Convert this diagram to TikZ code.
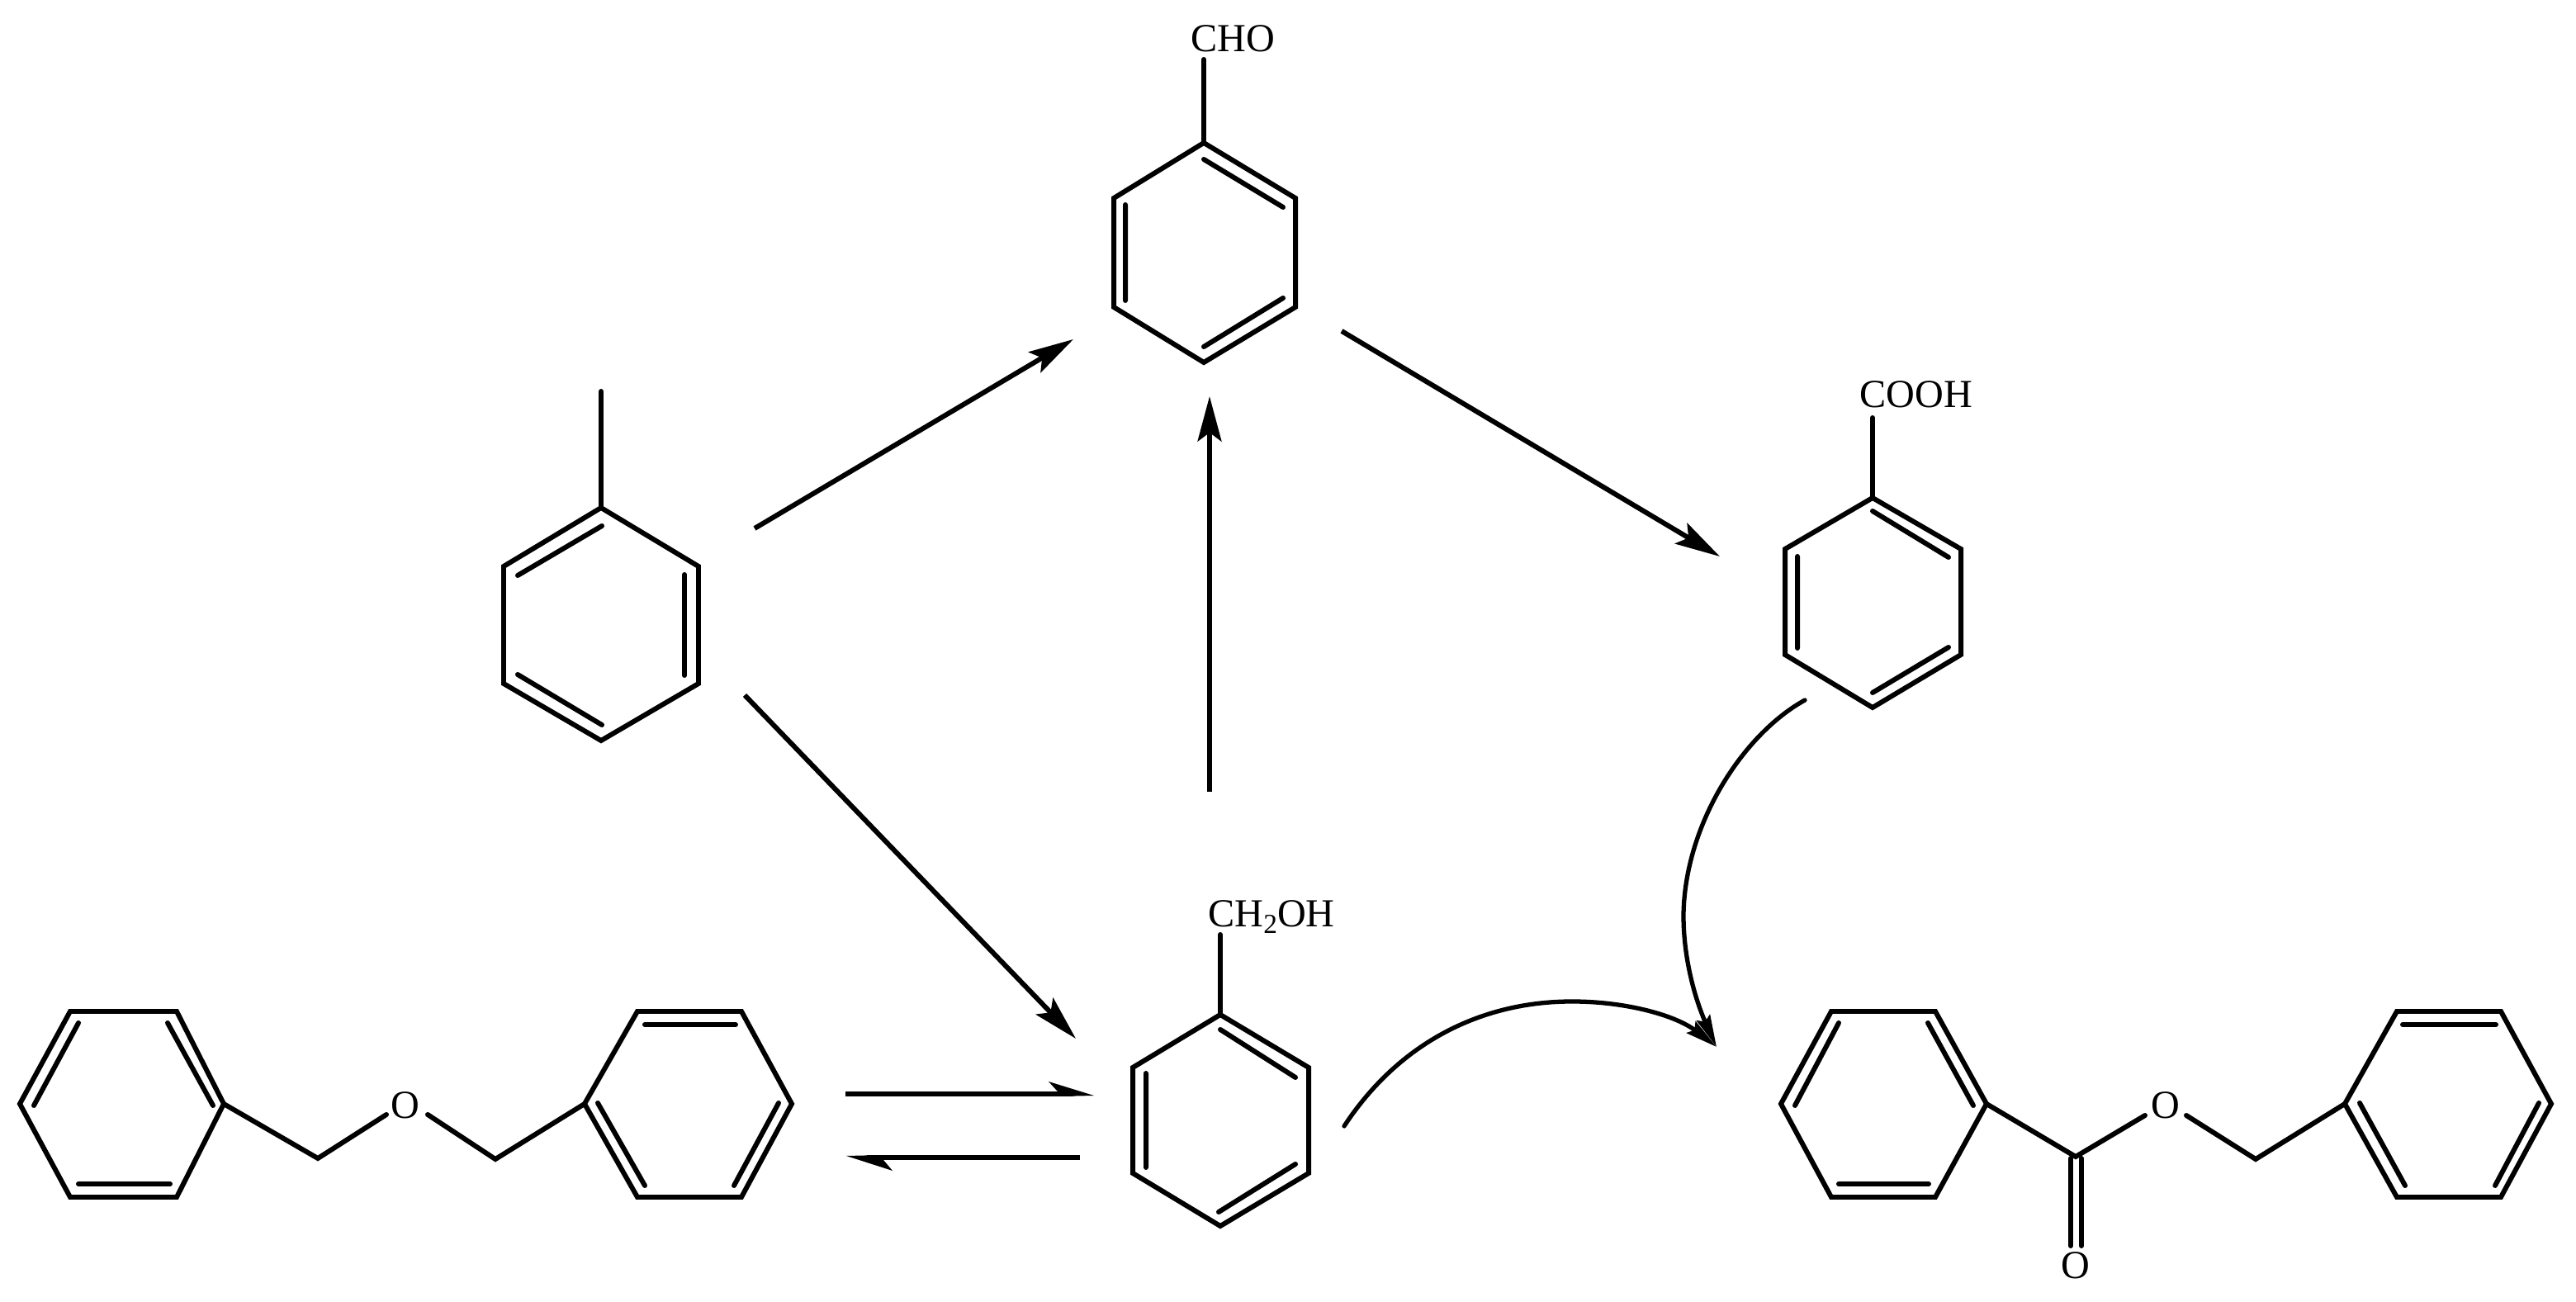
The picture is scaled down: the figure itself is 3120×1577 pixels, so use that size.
\documentclass[tikz,border=0pt]{standalone}
\usepackage{fontspec}
\setmainfont{Liberation Serif}
\usetikzlibrary{arrows.meta}
\tikzset{
  bond/.style={line width=1.7pt,line join=miter,line cap=round},
  rxn/.style={line width=1.7pt,line cap=butt,-{Stealth[length=15.5pt,width=8.2pt,inset=3pt]}},
  curverxn/.style={line width=1.5pt,line cap=round,-{Stealth[length=11pt,width=5pt,inset=1.5pt]}},
  eqline/.style={line width=1.9pt,line cap=butt},
  atom/.style={font=\fontsize{13.7}{16}\selectfont,inner sep=0pt,anchor=base}
}
\begin{document}
\begin{tikzpicture}[x=0.01cm,y=-0.01cm]
\useasboundingbox (0,0) rectangle (3120,1577);
% toluene
\coordinate (tolA) at (728,615);
\coordinate (tolB) at (728,474);
\draw[bond] (tolA) -- (846,686) -- (846,828) -- (728,897) -- (610,828) -- (610,686) -- cycle;
\draw[bond] (tolA) -- (tolB);
\draw[bond] (627,697) -- (729,637) (829,696) -- (829,818) (627,817) -- (729,878);
% benzaldehyde
\coordinate (aldA) at (1458,173);
\coordinate (aldB) at (1458,72);
\draw[bond] (aldA) -- (1569,240) -- (1569,372) -- (1458,439) -- (1349,372) -- (1349,240) -- cycle;
\draw[bond] (aldA) -- (aldB);
\draw[bond] (1458,193) -- (1554,251) (1363,248) -- (1363,364) (1458,420) -- (1554,361);
\node[atom] (cho) at (1493,63) {CHO};
% benzoic acid
\coordinate (acdA) at (2268,603);
\coordinate (acdB) at (2268,506);
\draw[bond] (acdA) -- (2375,665) -- (2375,793) -- (2268,857) -- (2162,793) -- (2162,665) -- cycle;
\draw[bond] (acdA) -- (acdB);
\draw[bond] (2268,619) -- (2360,675) (2177,674) -- (2177,785) (2268,839) -- (2360,784);
\node[atom] (cooh) at (2321,494) {COOH};
% benzyl alcohol
\coordinate (alcA) at (1478,1229);
\coordinate (alcB) at (1478,1132);
\draw[bond] (alcA) -- (1585,1293) -- (1585,1421) -- (1478,1485) -- (1372,1421) -- (1372,1293) -- cycle;
\draw[bond] (alcA) -- (alcB);
\draw[bond] (1478,1247) -- (1569,1305) (1388,1300) -- (1388,1414) (1476,1468) -- (1569,1410);
\node[atom] (choh) at (1540,1123) {CH\raisebox{-0.32ex}{\fontsize{9.5}{10}\selectfont 2}OH};
% dibenzyl ether
\node[atom] (oeth) at (491,1355) {O};
\coordinate (ethL) at (271,1337);
\coordinate (ethR) at (708,1337);
\draw[bond] (ethL) -- (214,1225) -- (85,1225) -- (24,1337) -- (85,1450) -- (214,1450) -- cycle;
\draw[bond] (95,1239) -- (41,1339) (203,1239) -- (258,1339) (95,1434) -- (206,1434);
\draw[bond] (ethR) -- (772,1225) -- (898,1225) -- (959,1337) -- (898,1450) -- (772,1450) -- cycle;
\draw[bond] (781,1241) -- (891,1241) (724,1336) -- (781,1436) (943,1336) -- (889,1436);
\coordinate (ethCa) at (385,1403);
\coordinate (ethCb) at (600,1404);
\coordinate (ethOa) at (468,1350);
\coordinate (ethOb) at (518,1350);
\draw[bond] (ethL) -- (ethCa) -- (ethOa);
\draw[bond] (ethOb) -- (ethCb) -- (ethR);
% benzyl benzoate
\node[atom] (oest) at (2623,1355) {O};
\node[atom] (ocar) at (2514,1549) {O};
\coordinate (estL) at (2406,1337);
\coordinate (estR) at (2840,1337);
\draw[bond] (estL) -- (2344,1225) -- (2218,1225) -- (2157,1337) -- (2218,1450) -- (2344,1450) -- cycle;
\draw[bond] (2227,1239) -- (2174,1339) (2335,1239) -- (2390,1339) (2227,1434) -- (2336,1434);
\draw[bond] (estR) -- (2903,1225) -- (3029,1225) -- (3090,1337) -- (3029,1450) -- (2903,1450) -- cycle;
\draw[bond] (2910,1241) -- (3023,1241) (2858,1336) -- (2913,1436) (3075,1336) -- (3022,1436);
\coordinate (estC) at (2514,1401);
\coordinate (estCb) at (2732,1404);
\coordinate (estOa) at (2598,1351);
\coordinate (estOb) at (2648,1351);
\draw[bond] (estL) -- (estC) -- (estOa);
\draw[bond] (estOb) -- (estCb) -- (estR);
\draw[bond] (2508,1403) -- (2508,1509) (2521,1403) -- (2521,1509);
% arrows
\coordinate (a1s) at (914,640);
\coordinate (a1e) at (1300,411);
\coordinate (a2s) at (902,842);
\coordinate (a2e) at (1303,1258);
\coordinate (a3s) at (1465,959);
\coordinate (a3e) at (1465,480);
\coordinate (a4s) at (1625,401);
\coordinate (a4e) at (2083,674);
\draw[rxn] (a1s) -- (a1e);
\draw[rxn] (a2s) -- (a2e);
\draw[rxn] (a3s) -- (a3e);
\draw[rxn] (a4s) -- (a4e);
% equilibrium
\coordinate (e1s) at (1024,1325);
\coordinate (e1e) at (1325,1327);
\coordinate (e2s) at (1308,1402);
\coordinate (e2e) at (1025,1400);
\draw[eqline] (e1s) -- (1300,1325);
\fill (e1e) -- (1270,1310) -- (1281,1322) -- (1281,1328) -- cycle;
\draw[eqline] (e2s) -- (1050,1402);
\fill (e2e) -- (1081,1418) -- (1070,1405) -- (1070,1399) -- cycle;
% curved arrows
\coordinate (c1s) at (1628,1364);
\coordinate (c2s) at (2186,848);
\coordinate (cEnd) at (2079,1268);
\draw[curverxn] (c1s) .. controls (1695,1262) and (1795,1213) .. (1904,1213) .. controls (1970,1213) and (2030,1230) .. (cEnd);
\draw[curverxn] (c2s) .. controls (2110,890) and (2040,1000) .. (2039,1109) .. controls (2039,1165) and (2055,1215) .. (cEnd);
\end{tikzpicture}
\end{document}
